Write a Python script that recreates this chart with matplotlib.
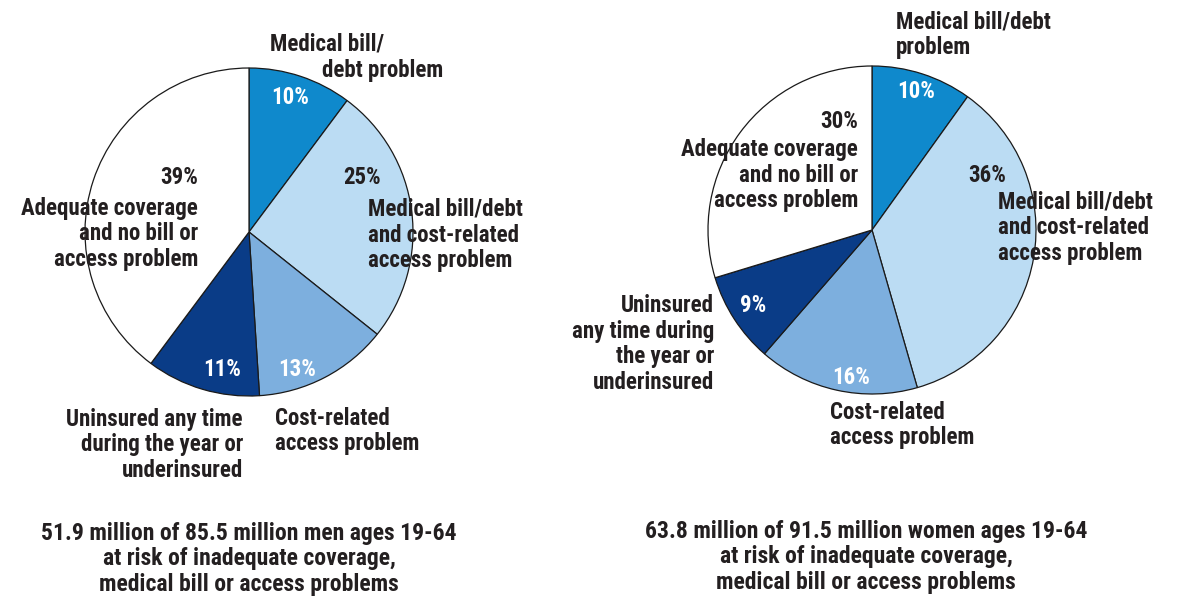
import matplotlib
matplotlib.use("Agg")
import matplotlib.pyplot as plt
from matplotlib import font_manager

W, H = 1185, 597

categories = ["Medical bill/debt problem",
              "Medical bill/debt and cost-related access problem",
              "Cost-related access problem",
              "Uninsured any time during the year or underinsured",
              "Adequate coverage and no bill or access problem"]
men_values = [10, 25, 13, 11, 39]
women_values = [10, 36, 16, 9, 30]
colors = ["#0f89cc", "#bbdcf3", "#7dafde", "#0a3c87", "#ffffff"]
pct_colors = ["white", "#231f20", "white", "white", "#231f20"]
men_caption = "51.9 million of 85.5 million men ages 19-64\nat risk of inadequate coverage,\nmedical bill or access problems"
women_caption = "63.8 million of 91.5 million women ages 19-64\nat risk of inadequate coverage,\nmedical bill or access problems"

names = {f.name for f in font_manager.fontManager.ttflist}
fam = [f for f in ["Liberation Sans Narrow", "DejaVu Sans Condensed", "Roboto Condensed", "Open Sans Condensed"] if f in names]
fam = fam + ["DejaVu Sans"]
plt.rcParams['font.family'] = fam
FS = 16.5
LS = 1.15
TXT = "#231f20"

fig = plt.figure(figsize=(W / 100, H / 100), dpi=100)
ax = fig.add_axes([0, 0, 1, 1])

def Y(y):
    return H - y

def t(x, y, s, ha="left", color=TXT, va="center", fs=FS):
    ax.text(x, Y(y), s, ha=ha, va=va, color=color, fontsize=fs,
            fontweight="bold", linespacing=LS)

R = 164
for vals, cx, cy in [(men_values, 249, 232), (women_values, 872, 230)]:
    ax.pie(vals, colors=colors, startangle=90, counterclock=False,
           center=(cx, Y(cy)), radius=R, normalize=True, frame=True,
           wedgeprops=dict(edgecolor="#1a1a1a", linewidth=0.9))

ax.set_xlim(0, W)
ax.set_ylim(0, H)
ax.set_aspect('equal')
ax.axis('off')

# Men pie labels
t(290, 98, f"{men_values[0]}%", ha="center", color=pct_colors[0])
t(362, 178, f"{men_values[1]}%", ha="center", color=pct_colors[1])
t(297, 370, f"{men_values[2]}%", ha="center", color=pct_colors[2])
t(222, 370, f"{men_values[3]}%", ha="center", color=pct_colors[3])
t(198, 178, f"{men_values[4]}%", ha="right", color=pct_colors[4])
t(270, 44, "Medical bill/")
t(322, 71, "debt problem")
t(368, 235, "Medical bill/debt\nand cost-related\naccess problem")
t(198, 234, "Adequate coverage\nand no bill or\naccess problem", ha="right")
t(243, 445, "Uninsured any time\nduring the year or\nunderinsured", ha="right")
t(275, 431, "Cost-related\naccess problem")
t(249, 559, men_caption, ha="center", fs=17)

# Women pie labels
t(916, 92, f"{women_values[0]}%", ha="center", color=pct_colors[0])
t(987, 175, f"{women_values[1]}%", ha="center", color=pct_colors[1])
t(851, 377, f"{women_values[2]}%", ha="center", color=pct_colors[2])
t(753, 305, f"{women_values[3]}%", ha="center", color=pct_colors[3])
t(858, 121, f"{women_values[4]}%", ha="right", color=pct_colors[4])
t(896, 35, "Medical bill/debt\nproblem")
t(998, 228, "Medical bill/debt\nand cost-related\naccess problem")
t(858, 175, "Adequate coverage\nand no bill or\naccess problem", ha="right")
t(714, 344, "Uninsured\nany time during\nthe year or\nunderinsured", ha="right")
t(830, 425, "Cost-related\naccess problem")
t(866, 557, women_caption, ha="center", fs=17)

fig.savefig("out.png", dpi=100, facecolor="white")
